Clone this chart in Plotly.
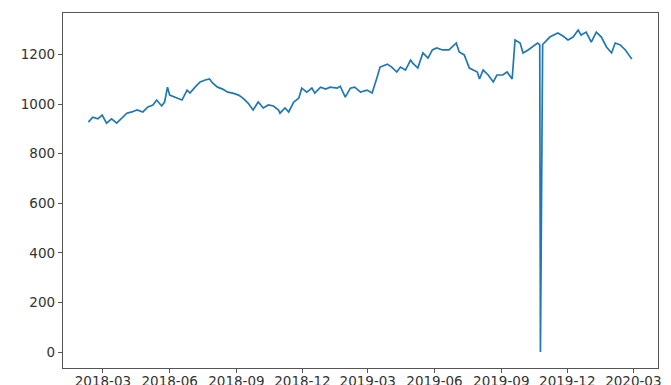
import plotly.graph_objects as go

# Daily closing prices (sampled), Feb 2018 – Feb 2020
dates = [
    "2018-02-09", "2018-02-15", "2018-02-22", "2018-02-28", "2018-03-06", "2018-03-13",
    "2018-03-20", "2018-03-27", "2018-04-03", "2018-04-10", "2018-04-17", "2018-04-25",
    "2018-05-02", "2018-05-09", "2018-05-14", "2018-05-21", "2018-05-25", "2018-05-29",
    "2018-06-01", "2018-06-11", "2018-06-18", "2018-06-25", "2018-06-29", "2018-07-06",
    "2018-07-13", "2018-07-20", "2018-07-26", "2018-07-30", "2018-08-06", "2018-08-13",
    "2018-08-20", "2018-08-27", "2018-09-04", "2018-09-10", "2018-09-17", "2018-09-24",
    "2018-10-01", "2018-10-08", "2018-10-15", "2018-10-22", "2018-10-29", "2018-10-31",
    "2018-11-07", "2018-11-12", "2018-11-19", "2018-11-26", "2018-11-30", "2018-12-07",
    "2018-12-14", "2018-12-18", "2018-12-26", "2019-01-02", "2019-01-08", "2019-01-18",
    "2019-01-22", "2019-01-29", "2019-02-05", "2019-02-11", "2019-02-19", "2019-02-28",
    "2019-03-07", "2019-03-14", "2019-03-18", "2019-03-28", "2019-04-03", "2019-04-10",
    "2019-04-15", "2019-04-22", "2019-04-29", "2019-05-02", "2019-05-09", "2019-05-16",
    "2019-05-23", "2019-05-29", "2019-06-04", "2019-06-12", "2019-06-21", "2019-07-01",
    "2019-07-05", "2019-07-12", "2019-07-19", "2019-07-30", "2019-08-02", "2019-08-07",
    "2019-08-14", "2019-08-21", "2019-08-26", "2019-09-03", "2019-09-09", "2019-09-16",
    "2019-09-20", "2019-09-27", "2019-10-01", "2019-10-08", "2019-10-14", "2019-10-21",
    "2019-10-24", "2019-10-25", "2019-10-28", "2019-10-31", "2019-11-07", "2019-11-18",
    "2019-11-25", "2019-12-02", "2019-12-09", "2019-12-16", "2019-12-20", "2019-12-27",
    "2020-01-03", "2020-01-10", "2020-01-17", "2020-01-24", "2020-01-31", "2020-02-05",
    "2020-02-12", "2020-02-19", "2020-02-26", "2020-02-28",
]
prices = [
    927, 947, 940, 955, 923, 940,
    923, 943, 963, 968, 976, 968,
    988, 996, 1016, 992, 1008, 1068,
    1036, 1024, 1016, 1056, 1044, 1068,
    1089, 1097, 1101, 1085, 1068, 1060,
    1048, 1044, 1036, 1024, 1004, 976,
    1008, 984, 996, 992, 976, 963,
    984, 968, 1008, 1024, 1064, 1048,
    1064, 1044, 1068, 1060, 1068, 1064,
    1072, 1028, 1064, 1068, 1048, 1056,
    1044, 1109, 1149, 1161, 1149, 1129,
    1149, 1137, 1177, 1165, 1145, 1206,
    1185, 1218, 1226, 1218, 1218, 1246,
    1210, 1198, 1145, 1129, 1101, 1137,
    1117, 1089, 1117, 1117, 1129, 1101,
    1258, 1246, 1206, 1218, 1230, 1246,
    1238, 0, 1240, 1250, 1270, 1286,
    1274, 1258, 1270, 1298, 1278, 1290,
    1250, 1290, 1270, 1230, 1206, 1246,
    1238, 1218, 1190, 1181,
]

y_ticks = [0, 200, 400, 600, 800, 1000, 1200]
x_ticks = ["2018-03-01", "2018-06-01", "2018-09-01", "2018-12-01", "2019-03-01",
           "2019-06-01", "2019-09-01", "2019-12-01", "2020-03-01"]
x_tick_labels = ["2018-03", "2018-06", "2018-09", "2018-12", "2019-03",
                 "2019-06", "2019-09", "2019-12", "2020-03"]

fig = go.Figure(
    go.Scatter(
        x=dates,
        y=prices,
        mode="lines",
        line=dict(color="#1f77b4", width=1.7),
        showlegend=False,
    )
)

axis_common = dict(
    showgrid=False,
    zeroline=False,
    showline=True,
    linecolor="#555555",
    linewidth=1.3,
    mirror=True,
    ticks="outside",
    ticklen=4,
    tickwidth=1,
    tickcolor="#555555",
    automargin=False,
    tickfont=dict(family="DejaVu Sans", size=13.5, color="#333333"),
)

fig.update_xaxes(
    range=["2018-01-05", "2020-04-04"],
    tickmode="array",
    tickvals=x_ticks,
    ticktext=x_tick_labels,
    ticklabelstandoff=-3,
    **axis_common,
)
fig.update_yaxes(
    range=[-64.5, 1367],
    tickmode="array",
    tickvals=y_ticks,
    ticktext=[str(v) for v in y_ticks],
    **axis_common,
)

fig.update_layout(
    width=671,
    height=385,
    margin=dict(l=63, r=13, t=13, b=17),
    paper_bgcolor="white",
    plot_bgcolor="white",
)

fig.write_html("out.html")
